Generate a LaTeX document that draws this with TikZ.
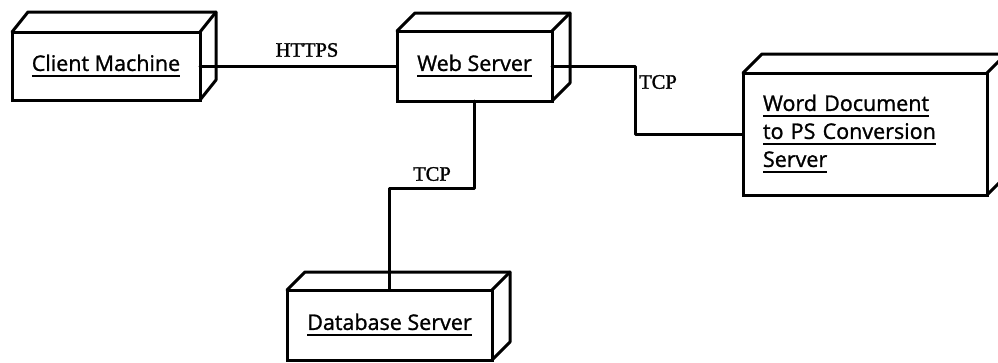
\documentclass[tikz,border=0pt]{standalone}
\usepackage{fontspec}
\setmainfont[FakeBold=1.5]{Liberation Serif}
\newfontfamily\boxfont[FakeBold=1.2]{Open Sans}
\newcommand\myul[1]{\leavevmode\setbox0\hbox{#1}\rlap{\rule[-6.5pt]{\wd0}{2pt}}\box0}
\newcommand\depthfaces[3]{%
  \draw[edge] (#1.north west) -- ++(#2,-#3) -- ([shift={(#2,-#3)}]#1.north east) -- ([shift={(#2,-#3)}]#1.south east) -- (#1.south east);
  \draw[edge] (#1.north east) -- ++(#2,-#3);}
\tikzset{
  edge/.style={line width=3pt, line join=round, line cap=round},
  front/.style={draw, line width=3pt, outer sep=0pt, inner sep=0pt, font={\boxfont\fontsize{21.5}{28}\selectfont}},
  proto/.style={font={\fontsize{20.5}{24}\selectfont}, inner sep=0pt}
}
\begin{document}
\begin{tikzpicture}[x=1pt,y=-1pt]
\useasboundingbox (0,0) rectangle (998,362);
\node[front, minimum width=188, minimum height=68] (cm) at (106,66) {\myul{Client Machine}};
\node[front, minimum width=155, minimum height=70] (ws) at (474.5,66) {\myul{Web Server}};
\node[front, minimum width=244, minimum height=122, text width=204, align=left] (wd) at (865,134)
  {\myul{Word Document}\\\myul{to PS Conversion}\\\myul{Server}};
\node[front, minimum width=205, minimum height=70] (db) at (389.5,325) {\myul{Database Server}};
\depthfaces{cm}{16}{20}
\depthfaces{ws}{18}{18}
\depthfaces{wd}{19}{19}
\depthfaces{db}{18}{18}
\coordinate (bendr) at (635,0);
\coordinate (bendd) at (0,188);
\draw[edge] (cm.east) -- (ws.west);
\draw[edge] (ws.east) -- (ws.east -| bendr) |- (wd.west);
\draw[edge] (ws.south) -- (ws.south |- bendd) -| (db.north);
\node[proto] (lhttps) at (307,50) {HTTPS};
\node[proto, anchor=west] (ltcp1) at (639,82) {TCP};
\node[proto] (ltcp2) at (432,174) {TCP};
\end{tikzpicture}
\end{document}
